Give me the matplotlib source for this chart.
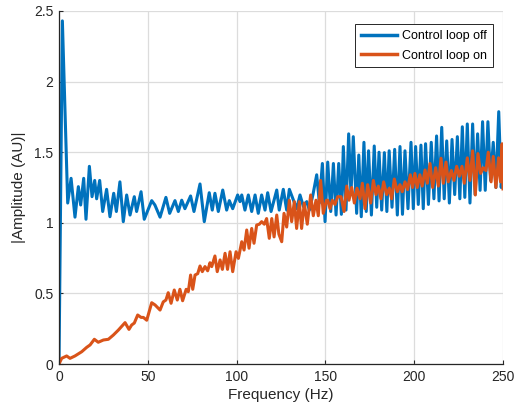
import matplotlib
matplotlib.use("Agg")
import matplotlib.pyplot as plt

# Control loop off (blue): frequency (Hz) and amplitude at read-off extremes
freq_off = [0, 1.9, 4.9, 6.8, 9.0, 10.9, 12.2, 13.9, 15.2, 17.1, 18.6, 20.1, 21.2, 22.9, 24.6,
            26.8, 28.7, 30.8, 32.3, 34.3, 36.2, 38.1, 40.0, 42.4, 43.7, 46.2, 48.0, 52.2, 54.0,
            56.9, 60.2, 62.3, 65.3, 67.2, 69.1, 70.9, 74.1, 76.0, 79.4, 81.8, 84.6, 86.3, 87.8,
            89.7, 92.2, 94.4, 95.9, 97.8, 100.6, 101.9, 102.9, 104.7, 106.6, 108.5, 110.4, 112.2,
            114.1, 116.0, 117.5, 119.4, 122.6, 124.0, 126.3, 128.2, 129.7, 133.8, 135.7, 137.6,
            139.5, 141.0, 143.0, 145.1, 146.6, 148.3, 149.8, 151.3, 153.0, 154.5, 156.0, 157.5,
            159.0, 160.1, 161.6, 163.1, 164.4, 165.7, 167.6, 168.8, 170.2, 171.7, 173.0, 174.3,
            175.9, 177.5, 178.9, 180.2, 181.7, 183.2, 184.6, 185.9, 187.5, 189.0, 190.5, 192.0,
            193.4, 194.8, 196.5, 198.2, 199.5, 200.8, 202.3, 203.8, 205.1, 206.4, 208.0, 209.6,
            211.1, 212.6, 214.0, 215.5, 216.9, 218.3, 219.8, 221.3, 222.8, 224.3, 225.7, 227.1,
            228.5, 229.9, 231.4, 232.9, 234.3, 235.7, 237.1, 238.5, 240.0, 241.5, 243.0, 244.5,
            246.0, 247.6, 249.0, 250.0]
amp_off = [0.0, 2.43, 1.14, 1.315, 1.04, 1.256, 1.126, 1.315, 1.025, 1.40, 1.185, 1.30, 1.17,
           1.30, 1.08, 1.237, 1.043, 1.209, 1.08, 1.29, 1.008, 1.197, 1.055, 1.185, 1.08, 1.22,
           1.025, 1.157, 1.126, 1.04, 1.18, 1.067, 1.157, 1.08, 1.16, 1.10, 1.19, 1.08, 1.275,
           1.008, 1.213, 1.09, 1.209, 1.08, 1.232, 1.09, 1.157, 1.10, 1.197, 1.15, 1.197, 1.09,
           1.197, 1.08, 1.197, 1.067, 1.197, 1.09, 1.213, 1.08, 1.232, 1.09, 1.237, 1.09, 1.237,
           1.10, 1.197, 1.115, 1.15, 1.09, 1.20, 1.34, 1.14, 1.42, 1.008, 1.43, 1.08, 1.42,
           1.055, 1.42, 1.06, 1.54, 1.09, 1.63, 1.20, 1.61, 1.067, 1.48, 1.043, 1.57, 1.08, 1.51,
           1.055, 1.544, 1.11, 1.50, 1.09, 1.497, 1.08, 1.51, 1.11, 1.52, 1.055, 1.54, 1.06,
           1.51, 1.10, 1.57, 1.10, 1.54, 1.13, 1.55, 1.10, 1.56, 1.13, 1.57, 1.17, 1.615, 1.155,
           1.676, 1.17, 1.58, 1.14, 1.59, 1.20, 1.61, 1.17, 1.68, 1.18, 1.70, 1.14, 1.70, 1.20,
           1.63, 1.23, 1.716, 1.23, 1.716, 1.30, 1.57, 1.25, 1.787, 1.25, 1.42]

# Control loop on (orange)
freq_on = [0, 1.5, 4.3, 6.2, 9.0, 12.8, 15.6, 17.5, 19.9, 22.1, 25.0, 27.8, 30.6, 33.4, 37.2,
           39.4, 40.9, 42.4, 44.3, 46.2, 47.5, 49.4, 52.2, 54.1, 56.9, 58.7, 60.2, 61.5, 63.1,
           64.9, 66.6, 68.1, 69.6, 71.6, 72.8, 74.1, 75.3, 76.6, 78.1, 79.4, 80.7, 82.2, 83.7,
           85.0, 86.0, 87.8, 89.1, 90.7, 92.0, 93.5, 94.9, 96.3, 97.8, 99.7, 101.0, 102.9, 104.2,
           105.7, 107.0, 108.5, 109.8, 111.3, 112.8, 114.1, 115.6, 116.9, 118.4, 119.8, 121.1,
           122.6, 123.8, 125.4, 126.7, 128.2, 129.7, 131.0, 132.5, 133.8, 135.3, 136.6, 138.1,
           139.8, 141.7, 143.2, 144.7, 146.0, 147.3, 148.8, 150.6, 151.3, 152.6, 153.9, 155.4,
           156.9, 158.8, 160.5, 162.0, 163.3, 164.8, 166.3, 167.8, 169.5, 170.8, 172.3, 173.8,
           175.5, 177.0, 178.5, 179.8, 181.3, 182.8, 184.5, 186.0, 187.3, 188.8, 190.5, 192.0,
           193.3, 194.8, 196.3, 197.8, 199.1, 200.4, 201.7, 203.2, 204.5, 206.1, 207.4, 208.9,
           210.4, 212.1, 213.6, 215.1, 216.4, 217.9, 219.2, 220.9, 222.4, 223.9, 225.4, 226.9,
           228.2, 229.9, 231.4, 232.9, 234.4, 235.9, 237.4, 238.9, 240.4, 241.7, 243.3, 244.5,
           246.0, 247.5, 248.6, 249.5, 250.0]
amp_on = [0.0, 0.04, 0.057, 0.04, 0.057, 0.087, 0.118, 0.135, 0.175, 0.154, 0.17, 0.175, 0.205,
          0.24, 0.293, 0.245, 0.276, 0.29, 0.347, 0.33, 0.33, 0.31, 0.434, 0.418, 0.382, 0.44,
          0.453, 0.505, 0.43, 0.524, 0.453, 0.529, 0.448, 0.529, 0.512, 0.63, 0.529, 0.63, 0.64,
          0.694, 0.654, 0.69, 0.66, 0.717, 0.69, 0.765, 0.654, 0.737, 0.67, 0.784, 0.67, 0.795,
          0.654, 0.795, 0.748, 0.866, 0.807, 0.949, 0.82, 0.96, 0.855, 0.984, 0.99, 1.008, 0.99,
          1.03, 0.89, 1.03, 0.90, 1.055, 0.92, 0.866, 1.067, 0.97, 1.16, 1.008, 1.15, 0.96, 1.15,
          0.96, 1.14, 0.99, 1.197, 1.05, 1.16, 1.05, 1.30, 1.067, 1.16, 1.16, 1.10, 1.16, 1.13,
          1.185, 1.185, 1.08, 1.26, 1.16, 1.25, 1.14, 1.245, 1.17, 1.28, 1.10, 1.27, 1.14, 1.30,
          1.20, 1.26, 1.17, 1.29, 1.20, 1.245, 1.17, 1.31, 1.22, 1.27, 1.22, 1.29, 1.235, 1.34,
          1.25, 1.35, 1.25, 1.34, 1.26, 1.374, 1.28, 1.42, 1.25, 1.39, 1.26, 1.457, 1.28, 1.43,
          1.29, 1.37, 1.30, 1.40, 1.33, 1.40, 1.28, 1.46, 1.30, 1.51, 1.197, 1.49, 1.35, 1.39,
          1.37, 1.50, 1.29, 1.47, 1.25, 1.46, 1.29, 1.56, 1.24]

x_ticks = [0, 50, 100, 150, 200, 250]
y_ticks = [0, 0.5, 1, 1.5, 2, 2.5]
y_ticklabels = ["0", "0.5", "1", "1.5", "2", "2.5"]

plt.rcParams['font.family'] = ['Liberation Sans', 'DejaVu Sans']

fig = plt.figure(figsize=(5.26, 4.11), dpi=100)
ax = fig.add_axes([59/526, 47/411, 444/526, 353/411])

ax.plot(freq_off, amp_off, color='#0072BD', lw=2.2, label='Control loop off',
        solid_joinstyle='round')
ax.plot(freq_on, amp_on, color='#D95319', lw=2.2, label='Control loop on',
        solid_joinstyle='round')

ax.set_xlim(0, 250)
ax.set_ylim(0, 2.5)
ax.set_xticks(x_ticks)
ax.set_yticks(y_ticks)
ax.set_yticklabels(y_ticklabels)
ax.grid(True, color='#dcdcdc', lw=0.9)
ax.set_axisbelow(True)
for s in ['top', 'right']:
    ax.spines[s].set_visible(False)
for s in ['left', 'bottom']:
    ax.spines[s].set_color('#262626')
    ax.spines[s].set_linewidth(0.9)
ax.tick_params(direction='in', length=3, width=0.8, colors='#262626', labelsize=10, pad=4)
ax.set_xlabel('Frequency (Hz)', fontsize=11, color='#262626', labelpad=3)
ax.set_ylabel('|Amplitude (AU)|', fontsize=11, color='#262626', labelpad=6)

leg = ax.legend(loc='upper right', bbox_to_anchor=(0.9775, 0.962), fontsize=9,
                frameon=True, fancybox=False, edgecolor='#262626', framealpha=1,
                handlelength=2.9, handletextpad=0.45, borderpad=0.45, labelspacing=0.6,
                borderaxespad=0)
leg.get_frame().set_linewidth(0.7)
for line in leg.get_lines():
    line.set_linewidth(2.5)

fig.savefig('out.png', dpi=100)
